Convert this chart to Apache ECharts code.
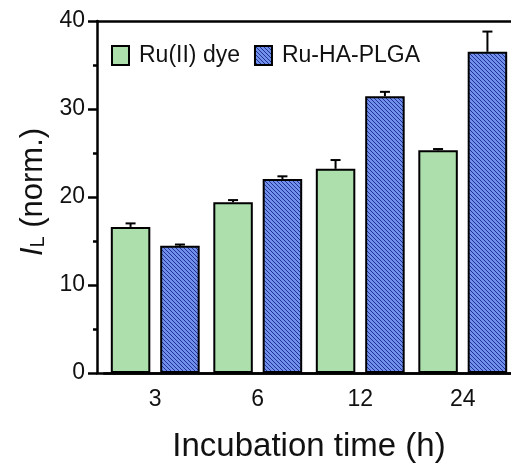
<!DOCTYPE html>
<html>
<head>
<meta charset="utf-8">
<script src="https://cdn.jsdelivr.net/npm/echarts@6/dist/echarts.min.js"></script>
<style>
  html, body { margin: 0; padding: 0; background: #fff; }
  #chart { width: 511px; height: 463px; }
</style>
</head>
<body>
<div id="chart"></div>
<script>
var categories = ['3', '6', '12', '24'];
var dyeValues = [16.6, 19.4, 23.2, 25.3];
var dyeErrors = [0.4, 0.25, 1.0, 0.15];
var nanoValues = [14.45, 22.05, 31.45, 36.5];
var nanoErrors = [0.15, 0.3, 0.5, 2.3];
var yTicks = [0, 10, 20, 30, 40];

// hatch pattern for the Ru-HA-PLGA bars
function makeHatch() {
  var c = document.createElement('canvas');
  c.width = 4; c.height = 4;
  var ctx = c.getContext('2d');
  ctx.fillStyle = '#7090ea';
  ctx.fillRect(0, 0, 4, 4);
  ctx.strokeStyle = '#22309a';
  ctx.lineWidth = 1.0;
  ctx.beginPath();
  ctx.moveTo(-1, -1); ctx.lineTo(5, 5);
  ctx.moveTo(-1, 3); ctx.lineTo(1, 5);
  ctx.moveTo(3, -1); ctx.lineTo(5, 1);
  ctx.stroke();
  return c;
}

var barW = 39.5;
var gapPct = 0.25;

function errorBars(values, errors, side) {
  return {
    type: 'custom',
    xAxisIndex: 0,
    yAxisIndex: 0,
    z: 3,
    data: values.map(function (v, i) { return [i, v, v + errors[i]]; }),
    renderItem: function (params, api) {
      var off = side * (barW + barW * gapPct) / 2;
      var lo = api.coord([api.value(0), api.value(1)]);
      var hi = api.coord([api.value(0), api.value(2)]);
      var x = lo[0] + off;
      var st = { stroke: '#000', lineWidth: 2 };
      return {
        type: 'group',
        children: [
          { type: 'line', shape: { x1: x, y1: lo[1], x2: x, y2: hi[1] }, style: st },
          { type: 'line', shape: { x1: x - 5, y1: hi[1], x2: x + 5, y2: hi[1] }, style: st }
        ]
      };
    }
  };
}

var txt = { color: '#111', fontFamily: 'Liberation Sans, Arial, sans-serif' };

var dom = document.getElementById('chart');
var myChart = echarts.init(dom, null, { renderer: 'canvas' });
var option = {
  animation: false,
  textStyle: txt,
  grid: [
    { left: 104, right: -3, top: 21, bottom: 90, outerBoundsMode: 'none', containLabel: false },
    { left: 97, right: 0, top: 21, bottom: 90, outerBoundsMode: 'none', containLabel: false }
  ],
  legend: {
    left: 106,
    top: 39,
    icon: 'rect',
    itemWidth: 17,
    itemHeight: 19,
    itemGap: 14,
    data: ['Ru(II) dye', 'Ru-HA-PLGA'],
    textStyle: { fontSize: 23, color: '#111', fontFamily: txt.fontFamily, padding: [0, 0, 0, 5] }
  },
  xAxis: [
    {
      type: 'category',
      gridIndex: 0,
      data: categories,
      axisLine: { show: true, lineStyle: { color: '#000', width: 2.5 } },
      axisTick: { alignWithLabel: true, length: 8, lineStyle: { color: '#000', width: 2.5 } },
      axisLabel: { fontSize: 23, color: '#111', margin: 15 },
      name: 'Incubation time (h)',
      nameLocation: 'middle',
      nameGap: 57,
      nameTextStyle: { fontSize: 33, color: '#111' }
    },
    {
      type: 'value', gridIndex: 1, position: 'bottom', min: 0, max: 1,
      axisLine: { show: true, lineStyle: { color: '#000', width: 2.5 } },
      axisTick: { show: false }, axisLabel: { show: false }, splitLine: { show: false }
    },
    {
      type: 'value', gridIndex: 1, position: 'top', min: 0, max: 1,
      axisLine: { show: true, lineStyle: { color: '#000', width: 2.5 } },
      axisTick: { show: false }, axisLabel: { show: false }, splitLine: { show: false }
    }
  ],
  yAxis: [
    {
      type: 'value',
      gridIndex: 0,
      min: yTicks[0],
      max: yTicks[yTicks.length - 1],
      interval: 10,
      offset: 7,
      axisLine: { show: true, lineStyle: { color: '#000', width: 2.5 } },
      axisTick: { show: true, length: 9, lineStyle: { color: '#000', width: 2.5 } },
      minorTick: { show: true, splitNumber: 2, length: 4, lineStyle: { color: '#000', width: 2.5 } },
      splitLine: { show: false },
      axisLabel: { fontSize: 23, color: '#111', margin: 12 },
      name: '{i|I}{s|L} (norm.)',
      nameLocation: 'middle',
      nameGap: 44,
      nameTextStyle: {
        fontSize: 31,
        color: '#111',
        padding: [0, 0, 0, 10],
        rich: {
          i: { fontSize: 31, fontStyle: 'italic', color: '#111' },
          s: { fontSize: 20, color: '#111', verticalAlign: 'bottom', lineHeight: 20 }
        }
      }
    },
    { type: 'value', gridIndex: 1, show: false, min: 0, max: 1 }
  ],
  series: [
    {
      name: 'Ru(II) dye',
      type: 'bar',
      xAxisIndex: 0, yAxisIndex: 0,
      barWidth: barW,
      barGap: '25%',
      data: dyeValues,
      itemStyle: { color: '#acdfac', borderColor: '#000', borderWidth: 2 }
    },
    {
      name: 'Ru-HA-PLGA',
      type: 'bar',
      xAxisIndex: 0, yAxisIndex: 0,
      barWidth: barW,
      barGap: '25%',
      data: nanoValues,
      itemStyle: { color: { image: makeHatch(), repeat: 'repeat' }, borderColor: '#000', borderWidth: 2 }
    },
    errorBars(dyeValues, dyeErrors, -1),
    errorBars(nanoValues, nanoErrors, 1)
  ]
};
if (option && typeof option === "object") {
  myChart.setOption(option, true);
}
</script>
</body>
</html>
